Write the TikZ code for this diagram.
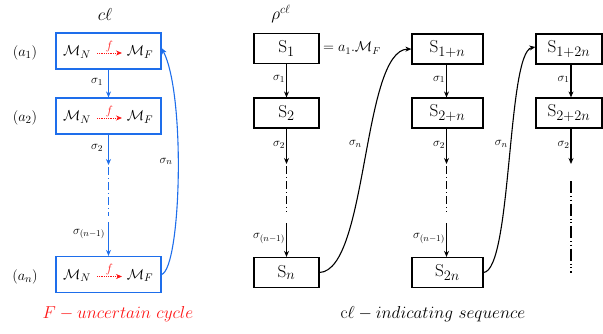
\documentclass[tikz,border=0pt]{standalone}
\usetikzlibrary{arrows.meta}
\definecolor{cblue}{RGB}{30,110,235}
\definecolor{cred}{RGB}{255,20,20}
\begin{document}
\begin{tikzpicture}[x=1pt,y=-1pt,
  bluebox/.style={draw=cblue,line width=1.2pt,minimum width=105pt,minimum height=36pt,inner sep=0pt},
  sbox/.style={draw=black,line width=1.2pt,minimum height=30pt,inner sep=0pt,font=\fontsize{19}{21}\selectfont},
  lbl/.style={font=\fontsize{13}{15}\selectfont,inner sep=0pt},
  mm/.style={font=\fontsize{15.5}{18}\selectfont,inner sep=0pt},
  tip/.style={-{Stealth[length=6pt,width=5pt]}},
  dashdot/.style={dash pattern=on 8pt off 3pt on 1pt off 3pt},
  dashdotdot/.style={dash pattern=on 12pt off 3pt on 1pt off 2.5pt on 1pt off 3pt},
  farrow/.style={draw=cred,densely dotted,line width=0.8pt,-{Stealth[length=6pt,width=5pt]}}
]
\useasboundingbox (0,0) rectangle (603,333);

% ---- left column ----
\node[font=\fontsize{18}{20}\selectfont] (t1) at (105,14) {$c\ell$};
\node[bluebox] (b1) at (108.5,51) {};
\node[bluebox] (b2) at (108.5,116) {};
\node[bluebox] (b3) at (108.5,274.5) {};
\foreach \b in {b1,b2,b3}{
  \node[mm] (\b n) at ([xshift=-31.5pt,yshift=-1pt]\b.center) {$\mathcal{M}_N$};
  \node[mm] (\b f) at ([xshift=31.5pt,yshift=-1pt]\b.center) {$\mathcal{M}_F$};
  \coordinate (\b s) at ([xshift=-11.5pt,yshift=-2pt]\b.center);
  \coordinate (\b e) at ([xshift=13.5pt,yshift=-2pt]\b.center);
  \draw[farrow] (\b s) -- node[above=0pt,text=cred,font=\fontsize{12}{14}\selectfont,inner sep=1pt] {$f$} (\b e);
}
\node[lbl,font=\fontsize{15}{17}\selectfont] (a1) at (25,53) {$(a_1)$};
\node[lbl,font=\fontsize{15}{17}\selectfont] (a2) at (25,118) {$(a_2)$};
\node[lbl,font=\fontsize{15}{17}\selectfont] (an) at (25,277) {$(a_n)$};

\coordinate (l1) at (108.5,165);
\coordinate (l2) at (108.5,167);
\coordinate (l3) at (108.5,216);
\coordinate (l4) at (108.5,222);
\draw[cblue,line width=1.1pt,tip] (b1) -- node[lbl,text=black,pos=0.45,left=5pt] {$\sigma_1$} (b2);
\draw[cblue,line width=1.1pt,tip] (b2) -- node[lbl,text=black,pos=0.45,left=5pt] {$\sigma_2$} (l1);
\draw[cblue,line width=1.1pt,dashdot] (l2) -- (l3);
\draw[cblue,line width=1.1pt,tip] (l4) -- node[lbl,text=black,pos=0.35,left=3pt] {$\sigma_{(n-1)}$} (b3);
\draw[cblue,line width=1.1pt,tip] (b3.east) .. controls (181,268) and (186,95) .. node[lbl,text=black,pos=0.55,left=5pt] {$\sigma_n$} ([yshift=3pt]b1.east);

\node[font=\fontsize{18.5}{20}\selectfont,text=cred] (cap1) at (118,314) {$F - uncertain\ cycle$};

% ---- middle column ----
\node[font=\fontsize{18}{20}\selectfont] (t2) at (281,14) {$\rho^{c\ell}$};
\node[sbox,minimum width=65pt] (s1) at (286.5,48.5) {$\mathrm{S}_1$};
\node[sbox,minimum width=65pt] (s2) at (286.5,113) {$\mathrm{S}_2$};
\node[sbox,minimum width=65pt] (sn) at (286.5,272.5) {$\mathrm{S}_n$};
\node[lbl,font=\fontsize{14}{16}\selectfont,anchor=west] (eq) at (323,48) {$=a_1.\mathcal{M}_F$};
\coordinate (m1) at (286.5,164);
\coordinate (m2) at (286.5,166);
\coordinate (m3) at (286.5,212);
\coordinate (m4) at (286.5,223);
\draw[line width=1.1pt,tip] (s1) -- node[lbl,pos=0.45,left=1pt] {$\sigma_1$} (s2);
\draw[line width=1.1pt,tip] (s2) -- node[lbl,pos=0.45,left=1pt] {$\sigma_2$} (m1);
\draw[line width=1.1pt,dashdot] (m2) -- (m3);
\draw[line width=1.1pt,tip] (m4) -- node[lbl,pos=0.45,left=1pt] {$\sigma_{(n-1)}$} (sn);

% ---- third column ----
\node[sbox,minimum width=71pt] (r1) at (447.5,49) {$\mathrm{S}_{1+n}$};
\node[sbox,minimum width=71pt] (r2) at (447.5,113) {$\mathrm{S}_{2+n}$};
\node[sbox,minimum width=71pt] (rn) at (447.5,272.5) {$\mathrm{S}_{2n}$};
\coordinate (k1) at (446.5,164);
\coordinate (k2) at (446.5,166);
\coordinate (k3) at (446.5,212);
\coordinate (k4) at (446.5,223);
\draw[line width=1.1pt,tip] (r1.south-|k1) -- node[lbl,pos=0.45,left=1pt] {$\sigma_1$} (r2.north-|k1);
\draw[line width=1.1pt,tip] (r2.south-|k1) -- node[lbl,pos=0.45,left=1pt] {$\sigma_2$} (k1);
\draw[line width=1.1pt,dashdot] (k2) -- (k3);
\draw[line width=1.1pt,tip] (k4) -- node[lbl,pos=0.45,left=1pt] {$\sigma_{(n-1)}$} (rn.north-|k4);

% ---- fourth column ----
\node[sbox,minimum width=66pt] (q1) at (569,49) {$\mathrm{S}_{1+2n}$};
\node[sbox,minimum width=66pt] (q2) at (569,113) {$\mathrm{S}_{2+2n}$};
\coordinate (p1) at (571,164);
\coordinate (p2) at (571,181);
\coordinate (p3) at (571,273);
\draw[line width=1.1pt,tip] (q1.south-|p1) -- node[lbl,pos=0.45,left=1pt] {$\sigma_1$} (q2.north-|p1);
\draw[line width=1.1pt,tip] (q2.south-|p1) -- node[lbl,pos=0.45,left=1pt] {$\sigma_2$} (p1);
\draw[line width=1.1pt,dashdotdot] (p2) -- (p3);

% ---- curves ----
\draw[line width=1.1pt,tip] (sn.east) .. controls (368,270) and (362,50) .. node[lbl,pos=0.55,left=6pt] {$\sigma_n$} (r1.west);
\draw[line width=1.1pt,tip] (rn.east) .. controls (512,270) and (507,52) .. node[lbl,pos=0.55,left=3pt] {$\sigma_n$} ([yshift=2pt]q1.west);

\node[font=\fontsize{18.5}{20}\selectfont] (cap2) at (433,314) {$\mathrm{c}\ell - indicating\ sequence$};
\end{tikzpicture}
\end{document}
